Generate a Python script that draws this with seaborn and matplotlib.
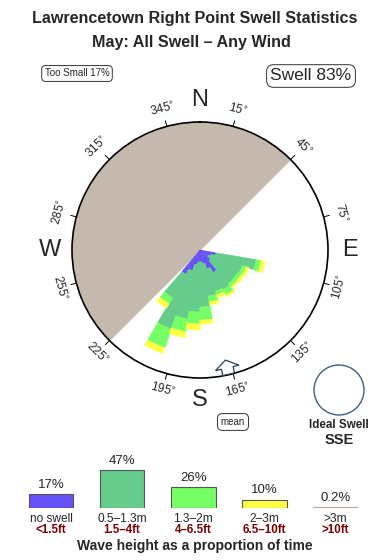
import numpy as np
import pandas as pd
import matplotlib
matplotlib.use("Agg")
import matplotlib.pyplot as plt
from matplotlib.patches import Circle, Polygon
from matplotlib.transforms import blended_transform_factory
import seaborn as sns

# ---------------- data ----------------
title_lines = ["Lawrencetown Right Point Swell Statistics", "May: All Swell \u2013 Any Wind"]
directions = [105, 115, 125, 135, 145, 155, 165, 175, 185, 195, 205, 215]   # bearing of each bin (deg)
no_swell   = [1.6, 1.2, 1.0, 1.4, 2.6, 2.0, 1.4, 1.2, 1.2, 1.5, 2.2, 2.8]
h_05_13    = [4.1, 3.3, 3.4, 3.0, 2.0, 2.4, 3.3, 4.5, 5.0, 5.5, 6.2, 2.7]
h_13_2     = [0.5, 0.4, 0.4, 0.4, 0.6, 0.4, 0.6, 1.3, 1.2, 1.3, 2.0, 0.7]
h_2_3      = [0.4, 0.3, 0.3, 0.2, 0.2, 0.3, 0.3, 0.4, 0.6, 0.6, 0.6, 0.5]
rose_max = 12.8
blocked_from, blocked_to = 225, 405   # shaded sector (deg)
mean_dir = 167
tick_dirs = [15, 45, 75, 105, 135, 165, 195, 225, 255, 285, 315, 345]
cardinals = {"N": 0, "E": 90, "S": 180, "W": 270}

legend_cats  = ["no swell", "0.5\u20131.3m", "1.3\u20132m", "2\u20133m", ">3m"]
legend_feet  = ["<1.5ft", "1.5\u20134ft", "4\u20136.5ft", "6.5\u201310ft", ">10ft"]
legend_pcts  = [17, 47, 26, 10, 0.2]
too_small_pct = 17
swell_pct = 83
ideal_dir = "SSE"

c_blue, c_dk, c_lt, c_yel, c_big = "#6652f6", "#66cc8c", "#77ff66", "#ffff44", "#c89a8a"
c_block = "#c4b9ac"

# ---------------- figure ----------------
sns.set_theme(style="white")
plt.rcParams['font.family'] = ['Liberation Sans', 'DejaVu Sans']
W, H = 390, 560
fig = plt.figure(figsize=(W / 100, H / 100), dpi=100)
fig.patch.set_facecolor("white")

def fx(px):
    return px / W

def fy(py):
    return 1 - py / H

# overlay axes in pixel coordinates for annotations
ov = fig.add_axes([0, 0, 1, 1], zorder=0)
ov.set_xlim(0, W)
ov.set_ylim(H, 0)
ov.axis("off")

# titles
fig.text(fx(195), fy(19), title_lines[0], ha="center", va="center", fontsize=11.6, fontweight="bold")
fig.text(fx(191), fy(42), title_lines[1], ha="center", va="center", fontsize=11.6, fontweight="bold")

fig.text(fx(77), fy(73.5), f"Too Small {too_small_pct}%", ha="center", va="center", fontsize=7,
         bbox=dict(boxstyle="round,pad=0.3,rounding_size=0.4", fc="white", ec="#333333", lw=0.7))
fig.text(fx(311), fy(76), f"Swell {swell_pct}%", ha="center", va="center", fontsize=12.5,
         bbox=dict(boxstyle="round,pad=0.22,rounding_size=0.4", fc="white", ec="#333333", lw=0.7))

# ---------------- rose ----------------
cx, cy, R = 200, 250, 128
ax = fig.add_axes([fx(cx - R), fy(cy + R), 2 * R / W, 2 * R / H], projection="polar", zorder=2)
ax.set_theta_zero_location("N")
ax.set_theta_direction(-1)
ax.set_ylim(0, rose_max)
ax.set_xticks([])
ax.set_yticks([])
ax.grid(False)
ax.set_facecolor("white")
ax.spines["polar"].set_linewidth(1.2)
ax.spines["polar"].set_color("black")

th = np.radians(np.linspace(blocked_from, blocked_to, 300))
ax.fill_between(th, 0, rose_max, color=c_block, lw=0, zorder=1)

theta = np.radians(directions)
width = np.radians(10.6)
bottom = np.zeros(len(directions))
for vals, col in [(no_swell, c_blue), (h_05_13, c_dk), (h_13_2, c_lt), (h_2_3, c_yel)]:
    v = np.array(vals)
    ax.bar(theta, v, width=width, bottom=bottom, color=col, edgecolor=col, linewidth=0.3, zorder=3)
    bottom = bottom + v

for d in tick_dirs:
    t = np.radians(d)
    ax.plot([t, t], [rose_max, rose_max * 1.045], color="black", lw=0.7, zorder=4, clip_on=False)
    rot = -d if d <= 90 else (180 - d if d < 270 else 360 - d)
    ax.text(t, rose_max * 1.135, f"{d}$^{{\\circ}}$", ha="center", va="center", rotation=rot,
            rotation_mode="anchor", fontsize=8.5, clip_on=False)

for lab, d in cardinals.items():
    ax.text(np.radians(d), rose_max * 1.17, lab, ha="center", va="center", fontsize=17, clip_on=False)

# mean direction arrow (points inward)
b = np.radians(mean_dir)
eu = np.array([np.sin(b), np.cos(b)])
ev = np.array([np.cos(b), -np.sin(b)])
shape = [(113, 0), (121, 12), (121, 6), (127.5, 6), (127.5, -6), (121, -6), (121, -12)]
pts = []
for u, v in shape:
    p = u * eu + v * ev
    pts.append((np.arctan2(p[0], p[1]), np.hypot(p[0], p[1]) / R * rose_max))
ax.add_patch(Polygon(pts, closed=True, fc="white", ec="#2a4060", lw=0.9, zorder=5))

ov.text(233, 422, "mean", ha="center", va="center", fontsize=7,
        bbox=dict(boxstyle="round,pad=0.35,rounding_size=0.5", fc="white", ec="#333333", lw=0.7))

# ideal swell
ov.add_patch(Circle((339, 390), 25, fill=False, ec="#3c5f80", lw=1.0))
ov.text(339, 425, "Ideal Swell", ha="center", va="center", fontsize=8.4, fontweight="bold")
ov.text(339, 439.5, ideal_dir, ha="center", va="center", fontsize=10.5, fontweight="bold")

# ---------------- legend bars ----------------
unit = 71.1
left_px = 51 - unit / 2
axl = fig.add_axes([fx(left_px), fy(508), 5 * unit / W, 48.5 / H], zorder=3)
df = pd.DataFrame({"cat": legend_cats, "pct": legend_pcts})
sns.barplot(data=df, x="cat", y="pct", hue="cat", palette=[c_blue, c_dk, c_lt, c_yel, c_big],
            legend=False, width=0.63, saturation=1, edgecolor="#555555", linewidth=0.8, ax=axl)
for patch in axl.patches:
    if patch.get_height() < 1:
        patch.set_edgecolor("#b8a59c")
        patch.set_linewidth(1.6)
axl.set_xlim(-0.5, 4.5)
axl.set_ylim(0, 60)
axl.axis("off")
for i, p in enumerate(legend_pcts):
    axl.annotate(f"{p:g}%", (i, p), xytext=(0, 2.5), textcoords="offset points",
                 ha="center", va="bottom", fontsize=9.5)
tr = blended_transform_factory(axl.transData, fig.transFigure)
for i, (c, f) in enumerate(zip(legend_cats, legend_feet)):
    axl.text(i, fy(519), c, transform=tr, ha="center", va="center", fontsize=8.6, clip_on=False)
    axl.text(i, fy(530), f, transform=tr, ha="center", va="center", fontsize=8.3,
             color="#7a0000", fontweight="bold", clip_on=False)
fig.text(fx(195), fy(546), "Wave height as a proportion of time", ha="center", va="center",
         fontsize=10, fontweight="bold")

fig.savefig("out.png", dpi=100)
